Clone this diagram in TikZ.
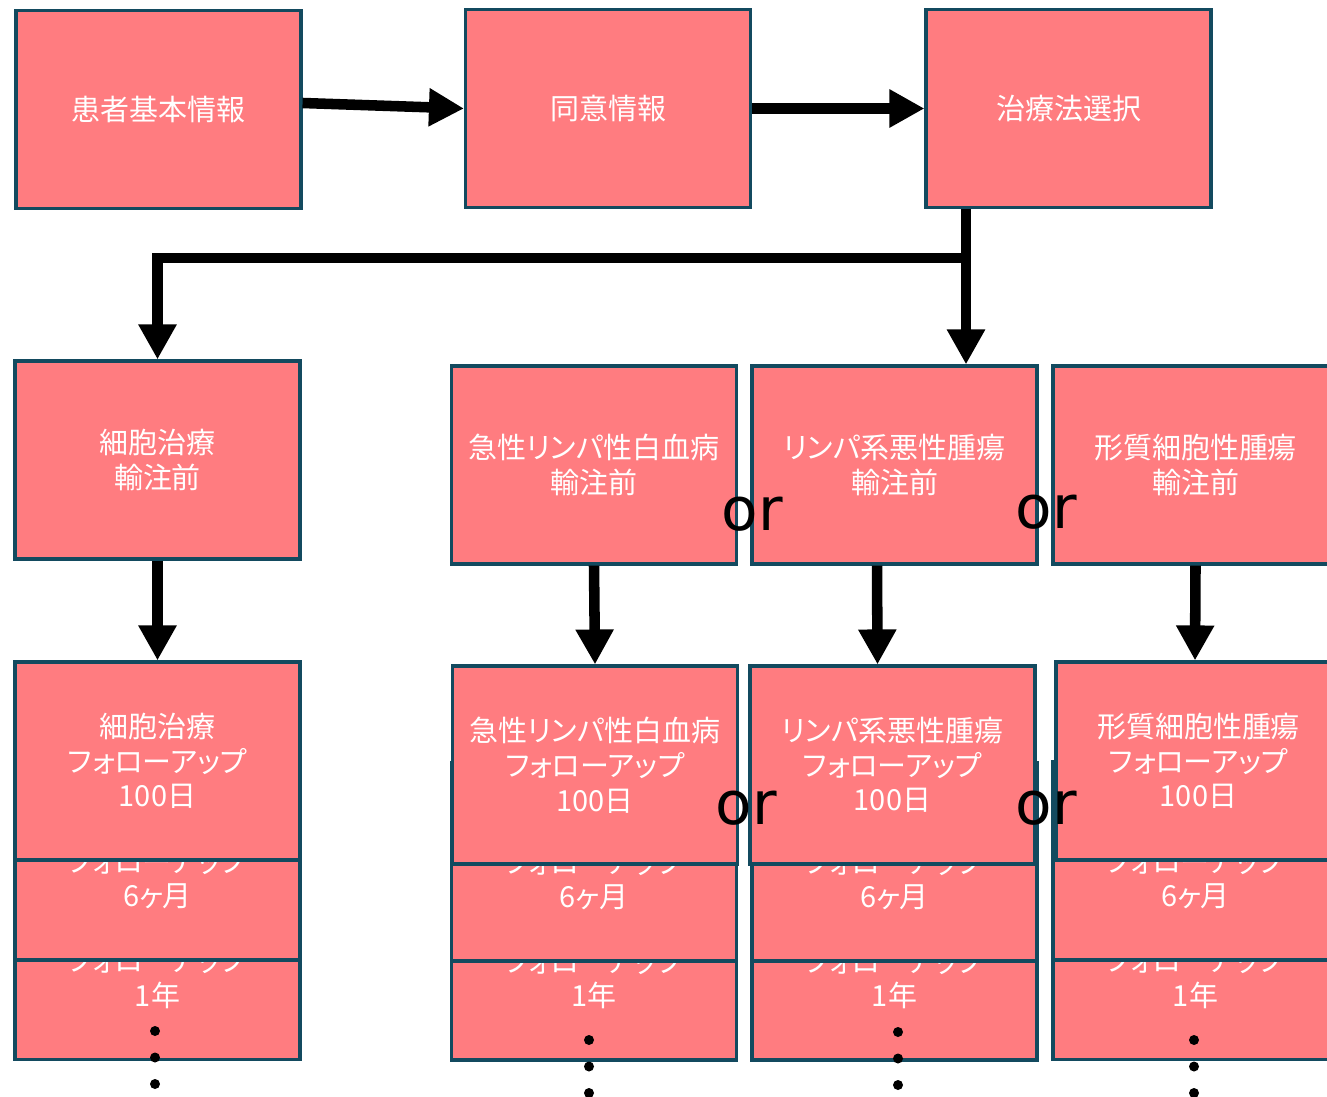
\documentclass[tikz,border=0pt]{standalone}
\usepackage{fontspec}
\usepackage{tikz}
\usetikzlibrary{arrows.meta}
\newfontfamily\jpfont[RawFeature=+palt]{Noto Sans CJK JP}
\newfontfamily\orfont{DejaVu Sans}
\definecolor{boxfill}{HTML}{FF7C80}
\definecolor{boxedge}{HTML}{134A5F}

\begin{document}
\begin{tikzpicture}[x=0.02cm,y=-0.02cm,
  every node/.style={font=\jpfont\fontsize{16.5}{19.8}\selectfont},
  card/.style={draw=boxedge,fill=boxfill,line width=1.8pt,text=white,align=center,
    minimum width=5.7cm,minimum height=3.96cm,inner sep=0pt},
  flow/.style={draw=black,line width=6pt,-{Triangle[length=0.7cm,width=0.72cm]}},
  ortext/.style={font=\orfont\fontsize{34}{34}\selectfont,inner sep=0pt}]
  \useasboundingbox (0,0) rectangle (1327,1097);
  \clip (0,0) rectangle (1327,1097);
  \node[card] (patient) at (158.5,109.5) {患者基本情報};
  \node[card] (consent) at (608,108.5) {同意情報};
  \node[card] (select) at (1068.5,108.5) {治療法選択};
  \node[card] (cell0) at (157.5,460) {細胞治療\\輸注前};
  \node[card] (all0) at (594,465) {急性リンパ性白血病\\輸注前};
  \node[card] (lym0) at (894.5,465) {リンパ系悪性腫瘍\\輸注前};
  \node[card] (pcn0) at (1195.5,465) {形質細胞性腫瘍\\輸注前};
  \node[card] (cell1y) at (157.5,960.5) {細胞治療\\フォローアップ\\1年};
  \node[card] (cell6m) at (157.5,861) {細胞治療\\フォローアップ\\6ヶ月};
  \node[card] (cell100) at (157.5,761) {細胞治療\\フォローアップ\\100日};
  \node[card] (all1y) at (594,961) {急性リンパ性白血病\\フォローアップ\\1年};
  \node[card] (all6m) at (594,862) {急性リンパ性白血病\\フォローアップ\\6ヶ月};
  \node[card] (all100) at (595,765) {急性リンパ性白血病\\フォローアップ\\100日};
  \node[card] (lym1y) at (894.5,961) {リンパ系悪性腫瘍\\フォローアップ\\1年};
  \node[card] (lym6m) at (894.5,862) {リンパ系悪性腫瘍\\フォローアップ\\6ヶ月};
  \node[card] (lym100) at (892.5,765) {リンパ系悪性腫瘍\\フォローアップ\\100日};
  \node[card] (pcn1y) at (1195.5,960.5) {形質細胞性腫瘍\\フォローアップ\\1年};
  \node[card] (pcn6m) at (1195.5,861) {形質細胞性腫瘍\\フォローアップ\\6ヶ月};
  \node[card] (pcn100) at (1198.5,761) {形質細胞性腫瘍\\フォローアップ\\100日};
  \draw[flow] ([yshift=0.13cm]patient.east) -- (consent.west);
  \draw[flow] (consent.east) -- (select.west);
  \coordinate (fork) at (966,258);
  \draw[flow] (select.south -| fork) -- (lym0.north -| fork);
  \draw[flow] (fork) -| (cell0.north);
  \draw[flow] (cell0.south) -- (cell100.north);
  \draw[flow] (all0.south) -- (all100.north);
  \draw[flow] ([xshift=-0.35cm]lym0.south) -- ([xshift=-0.3cm]lym100.north);
  \draw[flow] (pcn0.south) -- ([xshift=-0.07cm]pcn100.north);
  \foreach \x/\y in {155/1031,589/1040,898/1032,1194/1040}
    \foreach \d in {0,26.5,53}
      \fill (\x,\y+\d) circle[radius=0.1cm];
  \node[ortext] (or1) at (752,514) {or};
  \node[ortext] (or2) at (1046,512) {or};
  \node[ortext] (or3) at (746,808) {or};
  \node[ortext] (or4) at (1046,808) {or};
\end{tikzpicture}
\end{document}
